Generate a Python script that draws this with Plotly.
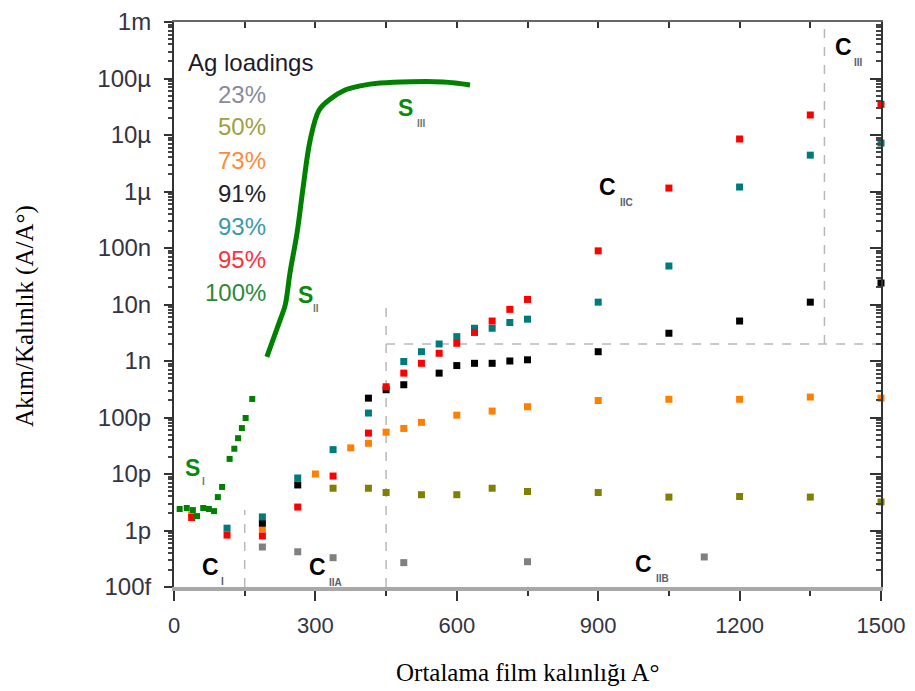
import plotly.graph_objects as go

OFF = 8  # page body margin
W, H = 915 - OFF, 691 - OFF
L, R, T, B = 174, 881, 22, 587   # plot edges in screenshot pixels

# ---------------- data ----------------
x_gray = [187.5, 262.5, 337.5, 487.5, 750, 1125]
y_gray = [0.51e-12, 0.42e-12, 0.33e-12, 0.27e-12, 0.28e-12, 0.34e-12]

x_olive = [337.5, 412.5, 450, 525, 600, 675, 750, 900, 1050, 1200, 1350, 1500]
y_olive = [5.6e-12, 5.6e-12, 4.7e-12, 4.3e-12, 4.3e-12, 5.6e-12, 4.9e-12, 4.7e-12,
           3.9e-12, 4.0e-12, 3.9e-12, 3.2e-12]

x_orange = [37.5, 187.5, 300, 375, 412.5, 450, 487.5, 525, 600, 675, 750, 900, 1050, 1200, 1350, 1500]
y_orange = [1.9e-12, 1.07e-12, 10e-12, 29e-12, 35e-12, 55e-12, 64e-12, 82e-12, 0.11e-9, 0.13e-9,
            0.155e-9, 0.20e-9, 0.21e-9, 0.21e-9, 0.23e-9, 0.22e-9]

x_black = [187.5, 262.5, 412.5, 450, 487.5, 562.5, 600, 637.5, 675, 712.5, 750, 900, 1050, 1200, 1350, 1500]
y_black = [1.35e-12, 6.4e-12, 0.22e-9, 0.31e-9, 0.38e-9, 0.61e-9, 0.83e-9, 0.91e-9, 0.91e-9, 1.0e-9,
           1.05e-9, 1.46e-9, 3.1e-9, 5.1e-9, 11e-9, 24e-9]

x_teal = [112.5, 187.5, 262.5, 337.5, 412.5, 487.5, 525, 562.5, 600, 637.5, 675, 712.5, 750, 900,
          1050, 1200, 1350, 1500]
y_teal = [1.1e-12, 1.74e-12, 8.5e-12, 27e-12, 0.12e-9, 0.98e-9, 1.46e-9, 2.0e-9, 2.7e-9, 3.8e-9,
          3.8e-9, 4.8e-9, 5.5e-9, 11e-9, 48e-9, 1.2e-6, 4.4e-6, 7.2e-6]

x_red = [37.5, 112.5, 187.5, 262.5, 337.5, 412.5, 450, 487.5, 525, 562.5, 600, 637.5, 675, 712.5,
         750, 900, 1050, 1200, 1350, 1500]
y_red = [1.7e-12, 0.83e-12, 0.8e-12, 2.6e-12, 9.2e-12, 53e-12, 0.35e-9, 0.61e-9, 0.91e-9, 1.37e-9,
         2.06e-9, 3.2e-9, 5.1e-9, 8.2e-9, 12.3e-9, 89e-9, 1.15e-6, 8.5e-6, 22.6e-6, 35e-6]

# 100 % Ag : low-thickness points and the S-curve
x_green_pts = [12, 27, 40, 49, 62, 74, 85, 93, 102, 118, 128, 136, 144, 152, 166]
y_green_pts = [2.4e-12, 2.5e-12, 2.3e-12, 1.8e-12, 2.5e-12, 2.4e-12, 2.2e-12, 3.9e-12, 5.9e-12,
               18.5e-12, 28e-12, 43e-12, 65e-12, 98e-12, 213e-12]
x_green_line = [197, 225, 236, 246, 261, 274, 289, 308, 331, 363, 395, 437, 571, 628]
y_green_line = [1.18e-9, 5.3e-9, 9.8e-9, 3.6e-8, 1.84e-7, 1.2e-6, 8.2e-6, 2.77e-5, 4.3e-5,
                6.25e-5, 7.4e-5, 8.3e-5, 8.7e-5, 7.7e-5]

y_tickvals = [1e-13, 1e-12, 1e-11, 1e-10, 1e-9, 1e-8, 1e-7, 1e-6, 1e-5, 1e-4, 1e-3]
y_ticktext = ["100f", "1p", "10p", "100p", "1n", "10n", "100n", "1µ", "10µ", "100µ", "1m"]
x_tickvals = [0, 300, 600, 900, 1200, 1500]

legend_labels = ["23%", "50%", "73%", "91%", "93%", "95%", "100%"]
legend_colors = ["#8a8a9a", "#a0a040", "#ff8a3a", "#222230", "#3a9aa8", "#ff3040", "#2a8a3a"]

COL = {"gray": "#808080", "olive": "#808000", "orange": "#ff7f00", "black": "#000000",
       "teal": "#007b7b", "red": "#ff0000", "green": "#008000"}

fig = go.Figure()

def add_pts(xs, ys, c, size=7):
    fig.add_trace(go.Scatter(x=xs, y=ys, mode="markers", cliponaxis=False,
                             marker=dict(symbol="square", size=size, color=c, line=dict(width=0)),
                             hoverinfo="skip", showlegend=False))

# dashed region separators
dash = dict(color="#b8b8b8", width=1.5, dash="dash")
for xs, ys in [([150, 150], [1e-13, 2.3e-12]),
               ([450, 450], [1e-13, 9e-9]),
               ([450, 1500], [2e-9, 2e-9]),
               ([1380, 1380], [2e-9, 1e-3])]:
    fig.add_trace(go.Scatter(x=xs, y=ys, mode="lines", line=dash, hoverinfo="skip",
                             showlegend=False))

add_pts(x_gray, y_gray, COL["gray"])
add_pts(x_olive, y_olive, COL["olive"])
add_pts(x_orange, y_orange, COL["orange"])
add_pts(x_black, y_black, COL["black"])
add_pts(x_teal, y_teal, COL["teal"])
add_pts(x_red, y_red, COL["red"])
add_pts(x_green_pts, y_green_pts, COL["green"], size=6)
fig.add_trace(go.Scatter(x=x_green_line, y=y_green_line, mode="lines",
                         line=dict(color=COL["green"], width=5, shape="spline", smoothing=1.0),
                         hoverinfo="skip", showlegend=False))

# dummy traces so the mirror axes are drawn
fig.add_trace(go.Scatter(x=[0], y=[1e-13], xaxis="x2", yaxis="y", mode="markers",
                         marker=dict(opacity=0), hoverinfo="skip", showlegend=False))
fig.add_trace(go.Scatter(x=[0], y=[1e-13], xaxis="x", yaxis="y2", mode="markers",
                         marker=dict(opacity=0), hoverinfo="skip", showlegend=False))

minor_y = [m * 10 ** e for e in range(-13, -3) for m in range(2, 10)]

sans = "Liberation Sans, Arial, sans-serif"
serif = "Liberation Serif, Times New Roman, serif"

fig.update_layout(
    width=W, height=H,
    margin=dict(l=L - OFF, r=W - (R - OFF), t=T - OFF, b=H - (B - OFF), pad=0, autoexpand=False),
    paper_bgcolor="white", plot_bgcolor="white",
    showlegend=False,
    xaxis=dict(range=[0, 1500], tickmode="array", tickvals=x_tickvals, automargin=False,
               ticks="outside", ticklen=10, tickwidth=2, tickcolor="#333",
               minor=dict(tickmode="array", tickvals=[150, 450, 750, 1050, 1350],
                          ticks="outside", ticklen=5, tickwidth=2, tickcolor="#333"),
               showline=True, linecolor="#a8a8a8", linewidth=4,
               showgrid=False, zeroline=False,
               tickfont=dict(family=sans, size=22, color="#333344"),
               ticklabelstandoff=6),
    xaxis2=dict(range=[0, 1500], overlaying="x", side="top", tickmode="array", automargin=False,
                tickvals=[150 * i for i in range(11)], ticks="inside", ticklen=6, tickwidth=2,
                tickcolor="#333", showticklabels=False, showline=True, linecolor="#666",
                linewidth=2, showgrid=False, zeroline=False),
    yaxis=dict(type="log", range=[-13, -3], tickmode="array", tickvals=y_tickvals, automargin=False,
               ticktext=y_ticktext, ticks="outside", ticklen=8, tickwidth=2, tickcolor="#333",
               minor=dict(tickmode="array", tickvals=minor_y, ticks="outside", ticklen=4,
                          tickwidth=1.5, tickcolor="#444"),
               showline=True, linecolor="#333", linewidth=2, showgrid=False, zeroline=False,
               tickfont=dict(family=sans, size=24, color="#333344"),
               ticklabelstandoff=8),
    yaxis2=dict(type="log", range=[-13, -3], overlaying="y", side="right", tickmode="array",
                tickvals=y_tickvals, ticks="inside", ticklen=11, tickwidth=2, tickcolor="#333",
                minor=dict(tickmode="array", tickvals=minor_y, ticks="inside", ticklen=5,
                           tickwidth=1.5, tickcolor="#444"), automargin=False,
                showticklabels=False, showline=True, linecolor="#333", linewidth=2,
                showgrid=False, zeroline=False),
)

def pp(px, py):
    return (px - L) / (R - L), (B - py) / (B - T)

ann = []

def text(px, py, s, size, color, family=sans, xanchor="center", bold=False, angle=0):
    x, y = pp(px, py)
    ann.append(dict(x=x, y=y, xref="paper", yref="paper", text=("<b>%s</b>" % s) if bold else s,
                    showarrow=False, xanchor=xanchor, yanchor="middle", textangle=angle,
                    font=dict(family=family, size=size, color=color)))

# legend block
text(186, 62, "Ag loadings", 24, "#1a1a2a", xanchor="left")
for i, (lab, c) in enumerate(zip(legend_labels, legend_colors)):
    text(268, 94 + i * 33, lab, 24, c, xanchor="right")

# region labels
reg = [("S", "I", 192, 468, 203, 482, "#0a8a0a"),
       ("S", "II", 305, 295, 316, 308, "#0a8a0a"),
       ("S", "III", 405, 108, 421, 123, "#0a8a0a"),
       ("C", "I", 210, 567, 222, 581, "#000000"),
       ("C", "IIA", 317, 567, 335, 582, "#000000"),
       ("C", "IIB", 643, 564, 662, 578, "#000000"),
       ("C", "IIC", 607, 187, 626, 202, "#000000"),
       ("C", "III", 843, 47, 858, 62, "#000000")]
for big, sub, bx, by, sx, sy, c in reg:
    text(bx, by, big, 23, c, bold=True)
    text(sx, sy, sub, 10, "#6a7a6a" if c != "#000000" else "#556070", bold=True)

# axis titles
text(527, 672, "Ortalama film kalınlığı A°", 25, "#000000", family=serif)
text(25, 316, "Akım/Kalınlık (A/A°)", 25, "#000000", family=serif, angle=-90)

fig.update_layout(annotations=ann)
fig.write_html("out.html")
